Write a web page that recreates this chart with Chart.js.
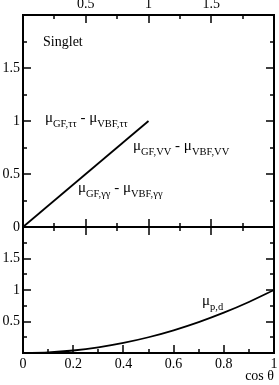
<!DOCTYPE html>
<html>
<head>
<meta charset="utf-8">
<script src="https://cdn.jsdelivr.net/npm/chart.js@4"></script>
<style>
  body { margin: 0; background: #fff; }
  canvas { display: block; }
</style>
</head>
<body>
<canvas id="mu" width="279" height="385"></canvas>
<script>
// top panel: the straight line, drawn against the top axis (0..2)
var topX = [0, 1];
var topY = [0, 1];

// bottom panel: mu_p,d against cos theta
var cosTheta = [0, 0.1, 0.2, 0.3, 0.4, 0.5, 0.6, 0.7, 0.8, 0.9, 1];
var muPd = [0, 0.01, 0.04, 0.09, 0.16, 0.25, 0.36, 0.49, 0.64, 0.81, 1];

// labelled ticks
var topAxisLabels = [0.5, 1, 1.5];
var bottomAxisLabels = [0, 0.2, 0.4, 0.6, 0.8, 1];
var topPanelLabels = [0, 0.5, 1, 1.5];
var bottomPanelLabels = [0.5, 1, 1.5];

var serif = 'Liberation Serif';

function pts(xs, ys) {
    return xs.map(function (x, i) { return {x: x, y: ys[i]}; });
}

function only(list) {
    return function (v) {
        for (var i = 0; i < list.length; i++) {
            if (Math.abs(list[i] - v) < 1e-6) return String(list[i]);
        }
        return '';
    };
}

// frame, inward ticks and the text labels
var framePlugin = {
    id: 'frame',
    afterDatasetsDraw: function (chart) {
        var ctx = chart.ctx;
        var a = chart.chartArea;
        var x = chart.scales.x, xt = chart.scales.xt, yt = chart.scales.yt, yb = chart.scales.yb;
        var mid = yt.bottom;
        ctx.save();
        ctx.strokeStyle = '#000';
        ctx.lineWidth = 1.5;

        function isMajor(v, step) {
            return Math.abs(v / step - Math.round(v / step)) < 1e-6;
        }
        function hTicks(scale, step, major, edgeY, dir) {
            for (var v = scale.min + step; v < scale.max - 1e-6; v += step) {
                var px = Math.round(scale.getPixelForValue(v));
                var len = isMajor(v, major) ? 8 : 4;
                ctx.beginPath();
                ctx.moveTo(px, edgeY);
                ctx.lineTo(px, edgeY + dir * len);
                ctx.stroke();
            }
        }
        function vTicks(scale, step, major) {
            for (var v = scale.min + step; v < scale.max - 1e-6; v += step) {
                var py = Math.round(scale.getPixelForValue(v));
                var len = isMajor(v, major) ? 8 : 4;
                ctx.beginPath();
                ctx.moveTo(a.left, py);
                ctx.lineTo(a.left + len, py);
                ctx.moveTo(a.right, py);
                ctx.lineTo(a.right - len, py);
                ctx.stroke();
            }
        }
        hTicks(xt, 0.25, 0.5, a.top, 1);
        hTicks(xt, 0.25, 0.5, mid, -1);
        hTicks(xt, 0.25, 0.5, mid, 1);
        hTicks(x, 0.1, 0.2, a.bottom, -1);
        vTicks(yt, 0.25, 0.5);
        vTicks(yb, 0.25, 0.5);

        ctx.lineWidth = 2;
        ctx.strokeRect(a.left, a.top, a.right - a.left, a.bottom - a.top);
        ctx.beginPath();
        ctx.moveTo(a.left, mid);
        ctx.lineTo(a.right, mid);
        ctx.stroke();

        ctx.fillStyle = '#000';
        ctx.textBaseline = 'alphabetic';
        ctx.textAlign = 'left';
        ctx.font = '14px "' + serif + '"';
        ctx.fillText('Singlet', xt.getPixelForValue(0.16), yt.getPixelForValue(1.71));

        function mu(px, py, parts) {
            var cx = px;
            parts.forEach(function (p) {
                ctx.font = '15px "' + serif + '"';
                if (typeof p === 'string') {
                    ctx.fillText(p, cx, py);
                    cx += ctx.measureText(p).width;
                } else {
                    ctx.fillText('μ', cx, py);
                    cx += ctx.measureText('μ').width;
                    ctx.font = '10.5px "' + serif + '"';
                    ctx.fillText(p[0], cx, py + 4.5);
                    cx += ctx.measureText(p[0]).width;
                }
            });
        }
        mu(xt.getPixelForValue(0.175), yt.getPixelForValue(0.99), [['GF,ττ'], ' - ', ['VBF,ττ']]);
        mu(xt.getPixelForValue(0.876), yt.getPixelForValue(0.726), [['GF,VV'], ' - ', ['VBF,VV']]);
        mu(xt.getPixelForValue(0.438), yt.getPixelForValue(0.33), [['GF,γγ'], ' - ', ['VBF,γγ']]);
        mu(x.getPixelForValue(0.713), yb.getPixelForValue(0.754), [['p,d']]);
        ctx.restore();
    }
};

var tickFont = {family: serif, size: 14};
var noGrid = { display: false, drawTicks: false };

new Chart(document.getElementById('mu'), {
    type: 'scatter',
    data: {
        datasets: [{
            data: pts(cosTheta, muPd),
            xAxisID: 'x',
            yAxisID: 'yb',
            showLine: true,
            borderColor: '#000',
            borderWidth: 1.8,
            pointRadius: 0,
            cubicInterpolationMode: 'monotone'
        }, {
            data: pts(topX, topY),
            xAxisID: 'xt',
            yAxisID: 'yt',
            showLine: true,
            borderColor: '#000',
            borderWidth: 1.8,
            pointRadius: 0
        }]
    },
    plugins: [framePlugin],
    options: {
        responsive: false,
        animation: false,
        layout: { padding: { right: 5 } },
        plugins: {
            legend: { display: false },
            tooltip: { enabled: false }
        },
        scales: {
            x: {
                type: 'linear',
                position: 'bottom',
                min: 0, max: 1,
                grid: noGrid,
                border: { display: false },
                ticks: { stepSize: 0.1, autoSkip: false, maxRotation: 0, padding: 3,
                         color: '#000', font: tickFont, callback: only(bottomAxisLabels) },
                title: { display: true, text: 'cos θ', align: 'end', color: '#000',
                         font: tickFont, padding: 0 },
                afterFit: function (s) { s.height = 32; s.paddingLeft = 0; s.paddingRight = 0; }
            },
            xt: {
                type: 'linear',
                position: 'top',
                min: 0, max: 2,
                grid: noGrid,
                border: { display: false },
                ticks: { stepSize: 0.25, autoSkip: false, maxRotation: 0, padding: 2,
                         color: '#000', font: tickFont, callback: only(topAxisLabels) },
                afterFit: function (s) { s.height = 15; s.paddingLeft = 0; s.paddingRight = 0; }
            },
            yb: {
                type: 'linear',
                position: 'left',
                stack: 'panels',
                stackWeight: 126,
                min: 0, max: 2,
                grid: noGrid,
                border: { display: false },
                ticks: { stepSize: 0.25, autoSkip: false, padding: 3,
                         color: '#000', font: tickFont, callback: only(bottomPanelLabels) },
                afterFit: function (s) { s.width = 23; s.paddingTop = 0; s.paddingBottom = 0; }
            },
            yt: {
                type: 'linear',
                position: 'left',
                stack: 'panels',
                stackWeight: 212,
                min: 0, max: 2,
                grid: noGrid,
                border: { display: false },
                ticks: { stepSize: 0.25, autoSkip: false, padding: 3,
                         color: '#000', font: tickFont, callback: only(topPanelLabels) },
                afterFit: function (s) { s.width = 23; s.paddingTop = 0; s.paddingBottom = 0; }
            }
        }
    }
});
</script>
</body>
</html>
